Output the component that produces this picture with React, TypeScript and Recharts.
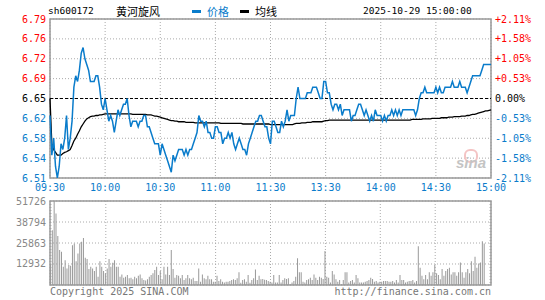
import React from "react";
import {
  LineChart,
  Line,
  BarChart,
  Bar,
  XAxis,
  YAxis,
  CartesianGrid,
  ReferenceLine,
  ReferenceArea,
} from "recharts";

// sh600172 黄河旋风, 2025-10-29 intraday (minute) chart

const PREV_CLOSE = 6.65;
const PCT_RANGE = 0.0211; // axis spans +-2.11%

const TIME_TICKS = ["09:30", "10:00", "10:30", "11:00", "11:30", "13:30", "14:00", "14:30", "15:00"];
const PRICE_LABELS = ["6.51", "6.54", "6.58", "6.62", "6.65", "6.69", "6.72", "6.76", "6.79"];
const PCT_LABELS = ["-2.11%", "-1.58%", "-1.05%", "-0.53%", "0.00%", "+0.53%", "+1.05%", "+1.58%", "+2.11%"];
const VOL_TICKS = [0, 12932, 25863, 38794, 51726];

// one value per minute, 09:30..11:30 then 13:01..15:00 (241 points)
const PRICE = [
  6.62, 6.55, 6.58, 6.53, 6.51, 6.53, 6.57, 6.56, 6.58, 6.62,
  6.56, 6.58, 6.61, 6.67, 6.69, 6.68, 6.70, 6.73, 6.74, 6.72,
  6.71, 6.70, 6.68, 6.68, 6.68, 6.69, 6.69, 6.67, 6.64, 6.63,
  6.65, 6.63, 6.61, 6.62, 6.61, 6.59, 6.61, 6.63, 6.62, 6.63,
  6.64, 6.64, 6.65, 6.62, 6.60, 6.61, 6.61, 6.61, 6.60, 6.61,
  6.61, 6.62, 6.62, 6.60, 6.60, 6.59, 6.58, 6.57, 6.57, 6.57,
  6.55, 6.57, 6.56, 6.55, 6.54, 6.53, 6.52, 6.55, 6.54, 6.55,
  6.56, 6.56, 6.56, 6.55, 6.56, 6.55, 6.56, 6.56, 6.57, 6.58,
  6.59, 6.62, 6.61, 6.61, 6.60, 6.61, 6.59, 6.59, 6.58, 6.58,
  6.60, 6.60, 6.59, 6.59, 6.57, 6.58, 6.58, 6.59, 6.58, 6.59,
  6.57, 6.56, 6.57, 6.58, 6.57, 6.56, 6.56, 6.55, 6.57, 6.58,
  6.59, 6.60, 6.61, 6.61, 6.62, 6.62, 6.61, 6.60, 6.60, 6.58,
  6.57, 6.61, 6.61, 6.60, 6.59, 6.59, 6.61, 6.60, 6.61, 6.63,
  6.61, 6.62, 6.62, 6.62, 6.65, 6.67, 6.65, 6.65, 6.65, 6.65,
  6.66, 6.66, 6.66, 6.67, 6.67, 6.67, 6.66, 6.65, 6.65, 6.68,
  6.68, 6.66, 6.66, 6.64, 6.63, 6.64, 6.64, 6.63, 6.64, 6.62,
  6.63, 6.63, 6.63, 6.63, 6.61, 6.62, 6.62, 6.63, 6.64, 6.64,
  6.63, 6.62, 6.63, 6.62, 6.61, 6.62, 6.61, 6.63, 6.62, 6.62,
  6.62, 6.61, 6.62, 6.61, 6.62, 6.62, 6.63, 6.62, 6.63, 6.62,
  6.63, 6.62, 6.63, 6.63, 6.63, 6.63, 6.63, 6.63, 6.63, 6.62,
  6.63, 6.65, 6.66, 6.66, 6.67, 6.66, 6.66, 6.66, 6.66, 6.66,
  6.67, 6.66, 6.67, 6.66, 6.66, 6.67, 6.67, 6.67, 6.67, 6.68,
  6.67, 6.67, 6.67, 6.68, 6.67, 6.67, 6.67, 6.66, 6.67, 6.68,
  6.69, 6.69, 6.69, 6.69, 6.69, 6.70, 6.71, 6.71, 6.71, 6.71, 6.71,
];

const AVG = [
  6.65, 6.57, 6.56, 6.555, 6.55, 6.55, 6.55, 6.553, 6.555, 6.556,
  6.558, 6.56, 6.567, 6.575, 6.58, 6.587, 6.593, 6.6, 6.605, 6.61,
  6.614, 6.616, 6.618, 6.619, 6.619, 6.62, 6.62, 6.621, 6.621, 6.622,
  6.623, 6.623, 6.623, 6.623, 6.623, 6.623, 6.623, 6.623, 6.623, 6.623,
  6.623, 6.623, 6.623, 6.623, 6.623, 6.622, 6.622, 6.622, 6.622, 6.622,
  6.622, 6.622, 6.622, 6.621, 6.621, 6.621, 6.62, 6.619, 6.619, 6.618,
  6.617, 6.616, 6.615, 6.614, 6.613, 6.612, 6.611, 6.611, 6.61, 6.61,
  6.609, 6.609, 6.609, 6.609, 6.608, 6.608, 6.608, 6.608, 6.608, 6.607,
  6.607, 6.607, 6.607, 6.607, 6.607, 6.607, 6.607, 6.607, 6.607, 6.607,
  6.607, 6.607, 6.607, 6.606, 6.606, 6.606, 6.606, 6.606, 6.606, 6.606,
  6.606, 6.606, 6.606, 6.606, 6.606, 6.605, 6.605, 6.605, 6.605, 6.605,
  6.605, 6.605, 6.605, 6.605, 6.605, 6.605, 6.605, 6.605, 6.605, 6.605,
  6.604, 6.604, 6.604, 6.604, 6.604, 6.604, 6.604, 6.604, 6.604, 6.604,
  6.604, 6.604, 6.604, 6.605, 6.606, 6.606, 6.606, 6.607, 6.607, 6.607,
  6.608, 6.608, 6.608, 6.609, 6.609, 6.609, 6.609, 6.609, 6.609, 6.61,
  6.611, 6.611, 6.612, 6.612, 6.612, 6.612, 6.612, 6.612, 6.612, 6.612,
  6.612, 6.612, 6.612, 6.612, 6.612, 6.612, 6.612, 6.612, 6.612, 6.612,
  6.612, 6.612, 6.612, 6.612, 6.612, 6.612, 6.612, 6.612, 6.612, 6.612,
  6.612, 6.612, 6.612, 6.612, 6.612, 6.612, 6.612, 6.612, 6.612, 6.612,
  6.612, 6.612, 6.612, 6.612, 6.612, 6.612, 6.612, 6.613, 6.613, 6.613,
  6.613, 6.613, 6.613, 6.614, 6.614, 6.614, 6.614, 6.614, 6.615, 6.615,
  6.615, 6.615, 6.615, 6.616, 6.616, 6.616, 6.616, 6.617, 6.617, 6.617,
  6.618, 6.618, 6.618, 6.618, 6.619, 6.619, 6.619, 6.62, 6.62, 6.621,
  6.622, 6.622, 6.623, 6.624, 6.625, 6.626, 6.627, 6.628, 6.628, 6.629, 6.63,
];

const VOLUME = [
  12900, 33700, 51726, 44000, 30100, 21500, 20500, 11200, 15300, 10200,
  12300, 11900, 24500, 25600, 14700, 19400, 25600, 26600, 29000, 16800,
  16000, 9800, 11200, 10200, 8600, 11200, 5100, 14700, 11200, 8600,
  7200, 10200, 16000, 11200, 13700, 15300, 11200, 11200, 5100, 6500,
  4500, 5100, 6100, 4100, 4500, 3500, 5100, 4100, 5700, 6500,
  4100, 3100, 2700, 3500, 5100, 6100, 7200, 9200, 11200, 6100,
  8600, 3500, 11200, 6500, 11200, 6100, 21500, 9800, 4500, 6100,
  5700, 4100, 6100, 3100, 4100, 6100, 4100, 3500, 4500, 2500,
  2500, 10200, 2000, 6500, 4100, 3500, 5700, 3500, 3500, 2000,
  2000, 5700, 2500, 3500, 2000, 1600, 2000, 2000, 2500, 3100,
  3500, 3100, 4100, 7800, 1400, 3100, 3500, 2000, 6100, 1400,
  3100, 4100, 9600, 3100, 5700, 3500, 3700, 3300, 3100, 2500,
  2000, 1500, 6100, 1600, 1600, 6100, 1600, 3100, 4100, 3700,
  4100, 400, 1600, 2500, 5100, 16400, 7800, 7800, 2000, 1600,
  3100, 3500, 4500, 3100, 6500, 4500, 3100, 5100, 4500, 3700,
  20900, 5100, 4500, 1600, 8600, 6500, 3500, 2000, 3100, 400,
  3100, 7800, 7800, 1600, 2500, 3100, 1600, 6100, 4100, 1600,
  1600, 1600, 2000, 2500, 3100, 4500, 3700, 2000, 2500, 1600,
  2000, 2000, 2500, 2500, 2500, 2000, 2000, 2500, 1600, 3100,
  1600, 6100, 3100, 3100, 1600, 2000, 2500, 2500, 3100, 1600,
  2500, 23900, 10600, 5700, 3500, 6100, 3500, 7800, 5700, 7800,
  12300, 7200, 6100, 3500, 9800, 5700, 8600, 9800, 10600, 6500,
  7800, 7800, 5700, 7800, 13900, 7800, 4500, 7800, 9800, 7200,
  14700, 8600, 17400, 10600, 13300, 13900, 27000, 25600, 0, 0, 0,
];

const RED = "#ff0000";
const BLUE = "#0a7ccb";
const GRAY = "#999999";
const GRID = "#aaaaaa";
const MONO = '"DejaVu Sans Mono", monospace';
const CJK = '"Noto Sans CJK SC", sans-serif';

const pad = (n: number) => (n < 10 ? "0" + n : "" + n);
const fmt = (m: number) => `${pad(Math.floor(m / 60))}:${pad(m % 60)}`;

// trading minutes
const TIMES: string[] = [];
for (let m = 570; m <= 690; m++) TIMES.push(fmt(m));
for (let m = 781; m <= 900; m++) TIMES.push(fmt(m));

const data = TIMES.map((t, i) => ({ t, price: PRICE[i], avg: AVG[i], vol: VOLUME[i] }));

const STEP = (PREV_CLOSE * PCT_RANGE) / 4;
const PRICE_TICKS = [-4, -3, -2, -1, 0, 1, 2, 3, 4].map((k) => PREV_CLOSE + k * STEP);
const DOMAIN: [number, number] = [PRICE_TICKS[0], PRICE_TICKS[8]];

const levelIndex = (v: number) => Math.round((v - PREV_CLOSE) / STEP) + 4;
const levelColor = (idx: number) => (idx > 4 ? RED : idx < 4 ? BLUE : "#000");

const PriceTick = ({ x, y, payload }: any) => {
  const idx = levelIndex(payload.value);
  return (
    <text x={x} y={y} dy={3.5} textAnchor="end" fill={levelColor(idx)} fontSize={10} fontFamily={MONO}>
      {PRICE_LABELS[idx]}
    </text>
  );
};

const PctTick = ({ x, y, payload }: any) => {
  const idx = levelIndex(payload.value);
  return (
    <text x={x} y={y} dy={3.5} textAnchor="start" fill={levelColor(idx)} fontSize={10} fontFamily={MONO}>
      {PCT_LABELS[idx]}
    </text>
  );
};

const TimeTick = ({ x, y, payload }: any) => (
  <text x={x} y={y} dy={13} textAnchor="middle" fill={BLUE} fontSize={10} fontFamily={MONO}>
    {payload.value}
  </text>
);

const VolTick = ({ x, y, payload }: any) => (
  <text x={x} y={y} dy={3.5} textAnchor="end" fill="#888" fontSize={10} fontFamily={MONO}>
    {payload.value === 0 ? "" : String(payload.value)}
  </text>
);

const abs = (left: number, top: number, extra: React.CSSProperties = {}): React.CSSProperties => ({
  position: "absolute",
  left,
  top,
  whiteSpace: "nowrap",
  ...extra,
});

export default function App() {
  return (
    <div style={{ position: "absolute", left: 0, top: 0, width: 545, height: 300, background: "#fff", overflow: "hidden" }}>
      {/* header */}
      <div style={abs(48, 5, { fontFamily: MONO, fontSize: 9.5, lineHeight: "12px", color: "#000" })}>sh600172</div>
      <div style={abs(116, 5, { fontFamily: CJK, fontSize: 11, lineHeight: "12px", color: "#000" })}>黄河旋风</div>
      <div style={abs(192, 10, { width: 9, height: 3, background: BLUE })} />
      <div style={abs(207, 5, { fontFamily: CJK, fontSize: 11, lineHeight: "12px", color: BLUE })}>价格</div>
      <div style={abs(240, 10, { width: 9, height: 3, background: "#000" })} />
      <div style={abs(255, 5, { fontFamily: CJK, fontSize: 11, lineHeight: "12px", color: "#000" })}>均线</div>
      <div style={abs(363, 5, { fontFamily: MONO, fontSize: 9.5, lineHeight: "12px", color: "#000" })}>2025-10-29 15:00:00</div>

      {/* price panel */}
      <div style={abs(0, 0)}>
        <LineChart width={545} height={200} data={data} margin={{ top: 19, right: 0, bottom: 0, left: 0 }}>
          <CartesianGrid stroke={GRID} strokeDasharray="1 2" />
          <XAxis
            dataKey="t"
            ticks={TIME_TICKS}
            interval={0}
            height={22}
            tickLine={false}
            axisLine={false}
            tickSize={0}
            tickMargin={0}
            tick={<TimeTick />}
          />
          <YAxis
            domain={DOMAIN}
            ticks={PRICE_TICKS}
            interval={0}
            allowDataOverflow
            width={50}
            tickLine={false}
            axisLine={false}
            tickSize={0}
            tickMargin={4}
            tick={<PriceTick />}
          />
          <YAxis
            yAxisId="pct"
            orientation="right"
            domain={DOMAIN}
            ticks={PRICE_TICKS}
            interval={0}
            allowDataOverflow
            width={54}
            tickLine={false}
            axisLine={false}
            tickSize={0}
            tickMargin={4}
            tick={<PctTick />}
          />
          <ReferenceLine y={PREV_CLOSE} stroke="#000" strokeDasharray="3 2" />
          <ReferenceArea y1={DOMAIN[0]} y2={DOMAIN[1]} fill="none" stroke={GRAY} strokeWidth={1.5} fillOpacity={0} />
          <Line type="linear" dataKey="avg" stroke="#000" strokeWidth={1.3} dot={false} isAnimationActive={false} />
          <Line yAxisId="pct" type="linear" dataKey="price" stroke={BLUE} strokeWidth={1.5} dot={false} isAnimationActive={false} />
        </LineChart>
      </div>

      {/* sina watermark */}
      <div style={abs(464, 149, { width: 10, height: 10, borderRadius: 6, border: "2px solid #f4c4c4" })} />
      <div style={abs(456, 155, { fontFamily: '"Liberation Sans", sans-serif', fontSize: 15, fontWeight: "bold", fontStyle: "italic", color: "#c4c4c4", lineHeight: "16px" })}>
        sina
      </div>

      {/* volume panel */}
      <div style={abs(0, 190)}>
        <BarChart width={545} height={110} data={data} margin={{ top: 11, right: 54, bottom: 15, left: 0 }} barCategoryGap={0}>
          <CartesianGrid stroke={GRID} strokeDasharray="1 2" />
          <XAxis dataKey="t" ticks={TIME_TICKS} interval={0} hide />
          <YAxis
            domain={[0, VOL_TICKS[4]]}
            ticks={VOL_TICKS}
            interval={0}
            allowDataOverflow
            width={50}
            tickLine={false}
            axisLine={false}
            tickSize={0}
            tickMargin={4}
            tick={<VolTick />}
          />
          <ReferenceArea y1={0} y2={VOL_TICKS[4]} fill="none" stroke={GRAY} strokeWidth={1.5} fillOpacity={0} />
          <Bar dataKey="vol" fill={GRAY} barSize={1} isAnimationActive={false} />
        </BarChart>
      </div>

      {/* footer */}
      <div style={abs(50, 286, { fontFamily: MONO, fontSize: 10, lineHeight: "12px", color: "#777" })}>Copyright 2025 SINA.COM</div>
      <div style={{ position: "absolute", right: 54, top: 286, fontFamily: MONO, fontSize: 10, lineHeight: "12px", color: "#777", whiteSpace: "nowrap" }}>
        http://finance.sina.com.cn
      </div>
    </div>
  );
}
